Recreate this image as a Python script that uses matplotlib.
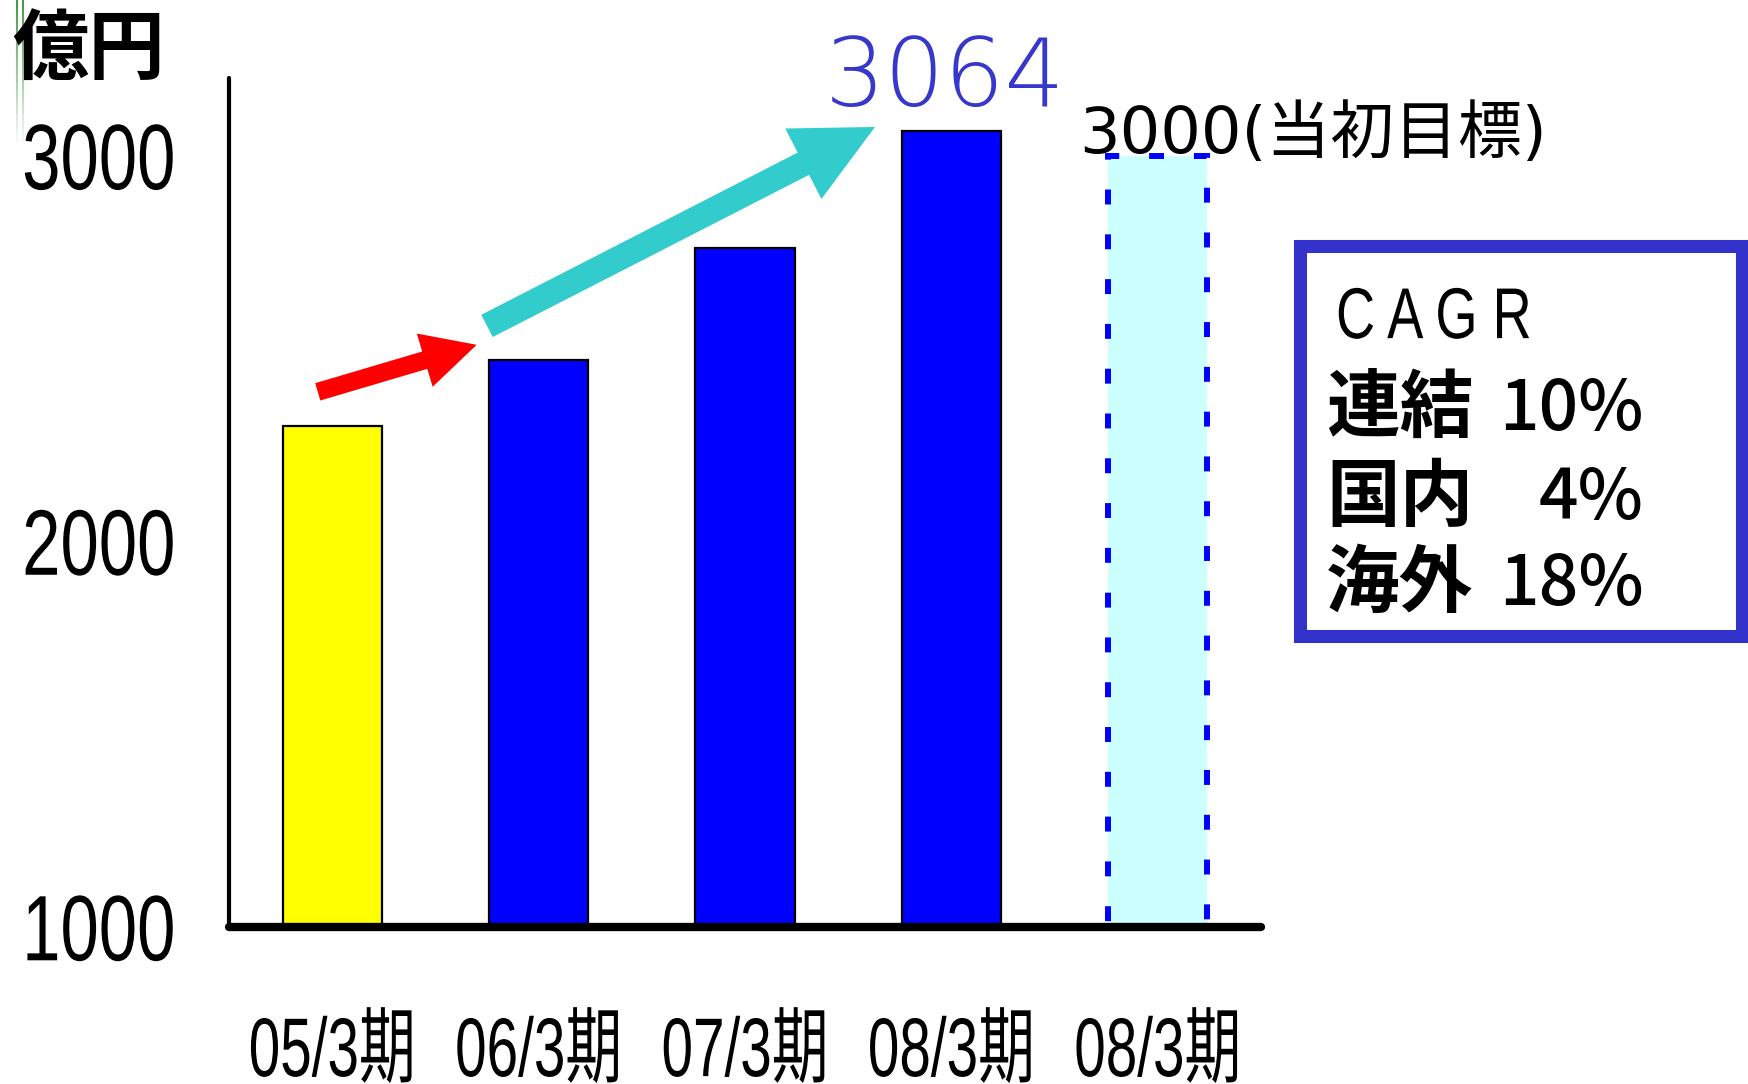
import numpy as np
import matplotlib.pyplot as plt
from matplotlib import patheffects
from matplotlib.transforms import Affine2D
from matplotlib.patches import Rectangle
from matplotlib.collections import LineCollection

# データ
categories = ['05/3期', '06/3期', '07/3期', '08/3期', '08/3期']
sales = [2300, 2470, 2760, 3064, 3000]
y_ticks = [1000, 2000, 3000]
cagr_labels = ['連結', '国内', '海外']
cagr_values = ['10%', '4%', '18%']

W, H = 1749, 1084
SANS = ['Liberation Sans', 'Noto Sans CJK JP']
GEO = ['DejaVu Sans', 'Noto Sans CJK JP']
JP = ['Noto Sans CJK JP', 'DejaVu Sans']


def fx(px):
    return px / W


def fy(py):
    return 1 - py / H


class Stretch(patheffects.AbstractPathEffect):
    """文字を縦方向に伸ばす (長体風)"""

    def __init__(self, sy):
        super().__init__()
        self.sy = sy

    def draw_path(self, renderer, gc, tpath, affine, rgbFace=None):
        ext = tpath.get_extents()
        cy = (ext.y0 + ext.y1) / 2
        st = Affine2D().translate(0, -cy).scale(1, self.sy).translate(0, cy)
        renderer.draw_path(gc, tpath, st + affine, rgbFace)


fig = plt.figure(figsize=(W / 100, H / 100), dpi=100)
ax = fig.add_axes([fx(229), fy(927), (1261 - 229) / W, (927 - 78) / H])

x = np.arange(len(categories))
colors = ['#FFFF00', '#0000FF', '#0000FF', '#0000FF']
ax.bar(x[:4], sales[:4], width=0.48, color=colors, edgecolor='black',
       linewidth=1.6, zorder=2)
# 当初目標 (点線)
ax.bar(x[4], sales[4], width=0.48, color='#CCFFFF', edgecolor='#0000FF',
       linewidth=4.3, linestyle=(0, (2.5, 5)), zorder=2)

ax.set_xlim(-0.5, 4.5)
ax.set_ylim(1000, 3202)
ax.set_yticks(y_ticks)
ax.set_yticklabels([str(v) for v in y_ticks], fontsize=49.6, family=SANS)
ax.set_xticks(x)
ax.set_xticklabels(categories, fontsize=40.8, family=SANS)
ax.tick_params(axis='y', length=0, pad=38.4)
ax.tick_params(axis='x', length=0, pad=70)
for lbl in ax.get_yticklabels():
    lbl.set_path_effects([Stretch(1.35)])
for lbl in ax.get_xticklabels():
    lbl.set_path_effects([Stretch(1.47)])

for s in ['top', 'right']:
    ax.spines[s].set_visible(False)
ax.spines['left'].set_linewidth(3)
ax.spines['bottom'].set_linewidth(6)
for s in ['left', 'bottom']:
    ax.spines[s].set_capstyle('round')
    ax.spines[s].set_zorder(3)

# 矢印
ax.annotate('', xy=(x[1] - 0.30, sales[1] + 40), xytext=(x[0] - 0.07, sales[0] + 88),
            arrowprops=dict(arrowstyle='simple,head_length=39,head_width=40,tail_width=13',
                            mutation_scale=1, color='#FF0000', shrinkA=0, shrinkB=0,
                            linewidth=0), annotation_clip=False)
ax.annotate('', xy=(x[3] - 0.37, sales[3] + 11), xytext=(x[1] - 0.25, sales[1] + 89),
            arrowprops=dict(arrowstyle='simple,head_length=58,head_width=57,tail_width=18',
                            mutation_scale=1, color='#33CCCC', shrinkA=0, shrinkB=0,
                            linewidth=0), annotation_clip=False)

# テキスト
fig.text(fx(12), fy(50), '億円', fontsize=55, fontweight='bold', family=JP,
         ha='left', va='center')
fig.text(fx(945), fy(106), str(sales[3]), fontsize=68, color='#3737CB',
         family=GEO, fontweight='light', ha='center', va='baseline')
fig.text(fx(1079), fy(153), f'{sales[4]}(当初目標)', fontsize=46, family=GEO,
         ha='left', va='baseline')

# 左端の緑線
n = 20
ys = np.linspace(0, 150, n + 1)
for gx in (17, 23):
    segs = [[(fx(gx), fy(ys[i])), (fx(gx), fy(ys[i + 1]))] for i in range(n)]
    alphas = np.linspace(0.9, 0.0, n)
    cols = [(0.2, 0.55, 0.2, a) for a in alphas]
    fig.add_artist(LineCollection(segs, colors=cols, linewidths=1.5,
                                  transform=fig.transFigure))

# CAGR ボックス
fig.add_artist(Rectangle((fx(1300), fy(636)), (1742 - 1300) / W, (636 - 246) / H,
                         transform=fig.transFigure, facecolor='white',
                         edgecolor='#3333CC', linewidth=9.4))
t = fig.text(fx(1336), fy(318), 'C A G R', fontsize=39, family=SANS,
             ha='left', va='center')
t.set_path_effects([Stretch(1.33)])
row_y = [410, 499, 585]
for lab, val, ry in zip(cagr_labels, cagr_values, row_y):
    fig.text(fx(1326), fy(ry), lab, fontsize=53, fontweight='bold', family=JP,
             ha='left', va='center')
    fig.text(fx(1644), fy(ry), val, fontsize=50, fontweight='medium', family=JP,
             ha='right', va='center')

fig.savefig('out.png', dpi=100, facecolor='white')
